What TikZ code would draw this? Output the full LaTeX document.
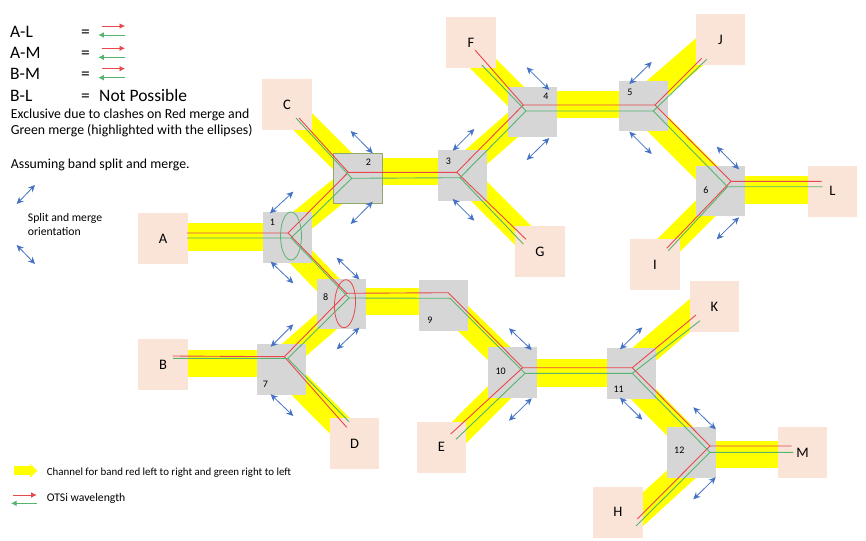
\documentclass[tikz,border=0pt]{standalone}
\usepackage{fontspec}
\setmainfont{Carlito}
\usetikzlibrary{arrows.meta}
\definecolor{bandyellow}{RGB}{255,255,0}
\definecolor{boxgray}{HTML}{D6D6D6}
\definecolor{peach}{HTML}{FAE3D7}
\definecolor{linered}{HTML}{E8474C}
\definecolor{linegreen}{HTML}{57B46E}
\definecolor{keyblue}{HTML}{4472C4}
\definecolor{olive}{HTML}{8FA86E}
\tikzset{
	banda/.style={bandyellow, line width=27.5pt},
	bandb/.style={bandyellow, line width=25pt},
	switch/.style={fill=boxgray, minimum width=49pt, minimum height=50.5pt, inner sep=0pt},
	term/.style={fill=peach, minimum width=49.5pt, minimum height=51pt, inner sep=0pt, font=\fontsize{14.5}{15}\selectfont},
	num/.style={inner sep=0pt, font=\fontsize{10}{10}\selectfont},
	redline/.style={linered, line width=0.9pt},
	greenline/.style={linegreen, line width=0.9pt},
	orient/.style={keyblue, line width=0.8pt, {Stealth[length=7pt,width=6.5pt]}-{Stealth[length=7pt,width=6.5pt]}},
	keyred/.style={linered, line width=0.7pt, -{Latex[length=5.5pt,width=5.5pt]}},
	keygreen/.style={linegreen, line width=0.7pt, -{Latex[length=5.5pt,width=5.5pt]}},
	big/.style={anchor=base west, inner sep=0pt, font=\fontsize{17.5}{18}\selectfont},
	mid/.style={anchor=base west, inner sep=0pt, font=\fontsize{13.8}{14}\selectfont},
	small/.style={anchor=base west, inner sep=0pt, font=\fontsize{11.7}{12}\selectfont},
	smaller/.style={anchor=base west, inner sep=0pt, font=\fontsize{10.9}{11}\selectfont}
}
\begin{document}
\begin{tikzpicture}[x=1pt, y=-1pt]
	\useasboundingbox (0,0) rectangle (866,540);
	% band junctions
	\coordinate (YA) at (163,237);
	\coordinate (YB) at (163,363.7);
	\coordinate (YC) at (287,106);
	\coordinate (YD) at (354,440);
	\coordinate (YE) at (441.5,450);
	\coordinate (YF) at (471,51.5);
	\coordinate (YG) at (540,252.2);
	\coordinate (YH) at (626,524.7);
	\coordinate (YI) at (655,259);
	\coordinate (YJ) at (720,34);
	\coordinate (YK) at (714.5,294.3);
	\coordinate (YL) at (832,190);
	\coordinate (YM) at (802,454.5);
	\coordinate (Y1) at (282,237);
	\coordinate (Y2) at (353,171.7);
	\coordinate (Y2b) at (362,171.7);
	\coordinate (Y3) at (459.5,171.7);
	\coordinate (Y4) at (524,104.5);
	\coordinate (Y4b) at (536,104.5);
	\coordinate (Y5) at (638.5,104.5);
	\coordinate (Y6) at (724,190);
	\coordinate (Y7) at (278,363.7);
	\coordinate (Y8) at (344,301.3);
	\coordinate (Y8b) at (350,301.3);
	\coordinate (Y9) at (445.3,301.3);
	\coordinate (Y10) at (519,372.8);
	\coordinate (Y11) at (622.5,372.8);
	\coordinate (Y12) at (703,454.5);
	% yellow bands
	\draw[banda] (YA)--(Y1);
	\draw[banda] (YB)--(Y7);
	\draw[banda] (Y2)--(Y3);
	\draw[banda] (Y4)--(Y5);
	\draw[banda] (Y6)--(YL);
	\draw[banda] (Y8)--(Y9);
	\draw[banda] (Y10)--(Y11);
	\draw[banda] (Y12)--(YM);
	\draw[bandb] (Y1)--(Y2b);
	\draw[bandb] (Y1)--(Y8);
	\draw[bandb] (YC)--(Y2);
	\draw[bandb] (Y3)--(Y4b);
	\draw[bandb] (Y3)--(YG);
	\draw[bandb] (YF)--(Y4);
	\draw[bandb] (Y5)--(YJ);
	\draw[bandb] (Y5)--(Y6);
	\draw[bandb] (Y6)--(YI);
	\draw[bandb] (Y7)--(Y8b);
	\draw[bandb] (Y7)--(YD);
	\draw[bandb] (Y9)--(Y10);
	\draw[bandb] (Y10)--(YE);
	\draw[bandb] (Y11)--(YK);
	\draw[bandb] (Y11)--(Y12);
	\draw[bandb] (Y12)--(YH);
	% switches
	\node[switch] (N1) at (287,237.5) {};
	\node[switch, draw=olive] (N2) at (357.5,178) {};
	\node[switch] (N3) at (462.5,175.5) {};
	\node[switch] (N4) at (532,112) {};
	\node[switch] (N5) at (643.5,106) {};
	\node[switch] (N6) at (720.5,191) {};
	\node[switch] (N7) at (281,369.5) {};
	\node[switch] (N8) at (341.5,304) {};
	\node[switch] (N9) at (443,305.5) {};
	\node[switch] (N10) at (512.5,372.5) {};
	\node[switch] (N11) at (631,373.5) {};
	\node[switch] (N12) at (691.5,452.5) {};
	\node[num] (L1) at (272.3,222) {1};
	\node[num] (L2) at (368.3,162.3) {2};
	\node[num] (L3) at (448.3,161.7) {3};
	\node[num] (L4) at (546,96.7) {4};
	\node[num] (L5) at (630,92.3) {5};
	\node[num] (L6) at (706,189.7) {6};
	\node[num] (L7) at (265.3,384.3) {7};
	\node[num] (L8) at (325.7,296.7) {8};
	\node[num] (L9) at (430,320) {9};
	\node[num] (L10) at (500.7,371.7) {10};
	\node[num] (L11) at (618.7,389.3) {11};
	\node[num] (L12) at (679.3,450.3) {12};
	% end points
	\node[term] (TA) at (163,238.5) {A};
	\node[term] (TB) at (163,364.5) {B};
	\node[term] (TC) at (287,104.5) {C};
	\node[term] (TD) at (354.5,443.5) {D};
	\node[term] (TE) at (441.5,447) {E};
	\node[term] (TF) at (471,42.5) {F};
	\node[term] (TG) at (540,251.5) {G};
	\node[term] (TH) at (618,512) {H};
	\node[term] (TI) at (655,264.5) {I};
	\node[term] (TJ) at (720.5,39.5) {J};
	\node[term] (TK) at (714.5,306.5) {K};
	\node[term] (TL) at (832.5,191) {L};
	\node[term] (TM) at (802.5,452.5) {M};
	% red wavelength
	\coordinate (RA) at (187,233);
	\coordinate (RB) at (172.7,356);
	\coordinate (RC) at (299,118);
	\coordinate (RD) at (346.7,427.3);
	\coordinate (RE) at (450.7,434);
	\coordinate (RF) at (475,50);
	\coordinate (RG) at (526,239.3);
	\coordinate (RH) at (637.3,519);
	\coordinate (RI) at (666.7,248.3);
	\coordinate (RJ) at (701.7,58.3);
	\coordinate (RK) at (696,315);
	\coordinate (RL) at (821.7,181.3);
	\coordinate (RM) at (791.7,446);
	\coordinate (R1) at (288,233);
	\coordinate (R2) at (348.3,172.3);
	\coordinate (R3) at (456.7,172.3);
	\coordinate (R4) at (523.3,105);
	\coordinate (R5) at (655,105);
	\coordinate (R6) at (731,181.3);
	\coordinate (R7) at (284.3,356.7);
	\coordinate (R8) at (346.7,293.3);
	\coordinate (R9) at (448.3,292.7);
	\coordinate (R10) at (522.7,367.7);
	\coordinate (R11) at (632.3,367.7);
	\coordinate (R12) at (710,446);
	\draw[redline] (RA)--(R1)--(R2)--(R3)--(R4)--(R5)--(R6)--(RL);
	\draw[redline] (R1)--(R8)--(R9)--(R10)--(R11)--(R12)--(RM);
	\draw[redline] (RB)--(R7)--(R8);
	\draw[redline] (R7)--(RD);
	\draw[redline] (RC)--(R2);
	\draw[redline] (R3)--(RG);
	\draw[redline] (RF)--(R4);
	\draw[redline] (R5)--(RJ);
	\draw[redline] (RI)--(R6);
	\draw[redline] (RE)--(R10);
	\draw[redline] (R11)--(RK);
	\draw[redline] (RH)--(R12);
	% green wavelength
	\coordinate (GA) at (187,238);
	\coordinate (GB) at (173,358.3);
	\coordinate (GC) at (296,118);
	\coordinate (GD) at (349,421.7);
	\coordinate (GE) at (456,439.3);
	\coordinate (GF) at (481.7,65);
	\coordinate (GG) at (523.3,244);
	\coordinate (GH) at (636,526);
	\coordinate (GI) at (668.3,250.7);
	\coordinate (GJ) at (706.7,59.3);
	\coordinate (GK) at (700,320.7);
	\coordinate (GL) at (822.7,186.7);
	\coordinate (GM) at (793.3,452.3);
	\coordinate (G1) at (291,238);
	\coordinate (G2) at (351.7,178.3);
	\coordinate (G3) at (460,177.7);
	\coordinate (G4) at (526,111);
	\coordinate (G5) at (653.3,111);
	\coordinate (G6) at (727.5,186.7);
	\coordinate (G7) at (287.7,358.5);
	\coordinate (G8) at (349,298);
	\coordinate (G9) at (450,298.3);
	\coordinate (G10) at (525,373.3);
	\coordinate (G11) at (632.3,373.3);
	\coordinate (G12) at (710,452.3);
	\draw[greenline] (GA)--(G1)--(G2)--(G3)--(G4)--(G5)--(G6)--(GL);
	\draw[greenline] (G1)--(G8)--(G9)--(G10)--(G11)--(G12)--(GM);
	\draw[greenline] (GB)--(G7)--(G8);
	\draw[greenline] (G7)--(GD);
	\draw[greenline] (GC)--(G2);
	\draw[greenline] (G3)--(GG);
	\draw[greenline] (GF)--(G4);
	\draw[greenline] (G5)--(GJ);
	\draw[greenline] (GI)--(G6);
	\draw[greenline] (GE)--(G10);
	\draw[greenline] (G11)--(GK);
	\draw[greenline] (GH)--(G12);
	% clash ellipses
	\draw[linegreen, line width=0.8pt] (291,236) ellipse (10.5 and 24);
	\draw[linered, line width=0.8pt, rotate around={-3:(345,303.7)}] (345,303.7) ellipse (10.5 and 24);
	% split and merge orientation
	\draw[orient] (270,213.3)--(293.3,191.7);
	\draw[orient] (270.7,261.7)--(293.3,283.3);
	\draw[orient] (350.7,131)--(372.7,153.3);
	\draw[orient] (372.7,201.7)--(350.7,224);
	\draw[orient] (452.7,150.7)--(474.3,129);
	\draw[orient] (452.7,199)--(474.3,220.7);
	\draw[orient] (526.7,67.3)--(549.3,90);
	\draw[orient] (549.3,138)--(526.7,160);
	\draw[orient] (629.3,84)--(651.7,62);
	\draw[orient] (629.3,131.7)--(651.7,154);
	\draw[orient] (716.7,146.7)--(739,169.3);
	\draw[orient] (739,217.3)--(716.7,239.3);
	\draw[orient] (270.7,346.7)--(293.3,324.3);
	\draw[orient] (270.7,394.3)--(293.3,416);
	\draw[orient] (336.7,257.7)--(359.3,279.3);
	\draw[orient] (359.3,327.7)--(336.7,349.3);
	\draw[orient] (509,328.3)--(531.7,350);
	\draw[orient] (531.7,398.3)--(509,420.7);
	\draw[orient] (620,349.3)--(642.3,327.3);
	\draw[orient] (620,397.7)--(642.3,419.7);
	\draw[orient] (693.3,407.3)--(715.7,429.3);
	\draw[orient] (715.7,477.3)--(693.3,499.3);
	\draw[orient] (35,185)--(16.7,204);
	\draw[orient] (16.7,245)--(35,264);
	% key
	\node[big] (K1) at (10,37.3) {A-L};
	\node[big] (K2) at (10,59) {A-M};
	\node[big] (K3) at (10,79.3) {B-M};
	\node[big] (K4) at (10,101.7) {B-L};
	\node[big] (E1) at (81,37.3) {=};
	\node[big] (E2) at (81,59) {=};
	\node[big] (E3) at (81,79.3) {=};
	\node[big] (E4) at (81,101.7) {=};
	\node[big] (K5) at (99,101.7) {Not Possible};
	\draw[keyred] (101.7,26)--(125,26);
	\draw[keygreen] (125,35)--(98.3,35);
	\draw[keyred] (101.7,48.3)--(125,48.3);
	\draw[keygreen] (125,57.3)--(98.3,57.3);
	\draw[keyred] (101.7,68.7)--(125,68.7);
	\draw[keygreen] (125,77.7)--(98.3,77.7);
	\node[mid] (T1) at (10.7,118.3) {Exclusive due to clashes on Red merge and};
	\node[mid] (T2) at (10.7,135) {Green merge (highlighted with the ellipses)};
	\node[mid] (T3) at (10.7,168.3) {Assuming band split and merge.};
	\node[small] (T4) at (27.7,221.7) {Split and merge};
	\node[small] (T5) at (27.7,235) {orientation};
	\draw[bandyellow, line width=8.5pt, -{Triangle[length=7.5pt,width=13pt]}] (14,470.7)--(37.5,470.7);
	\node[smaller] (T6) at (46.7,475) {Channel for band red left to right and green right to left};
	\draw[keyred] (13.3,495)--(36.7,495);
	\draw[keygreen] (36.7,503.3)--(11,503.3);
	\node[small] (T7) at (46.7,501) {OTSi wavelength};
\end{tikzpicture}
\end{document}
